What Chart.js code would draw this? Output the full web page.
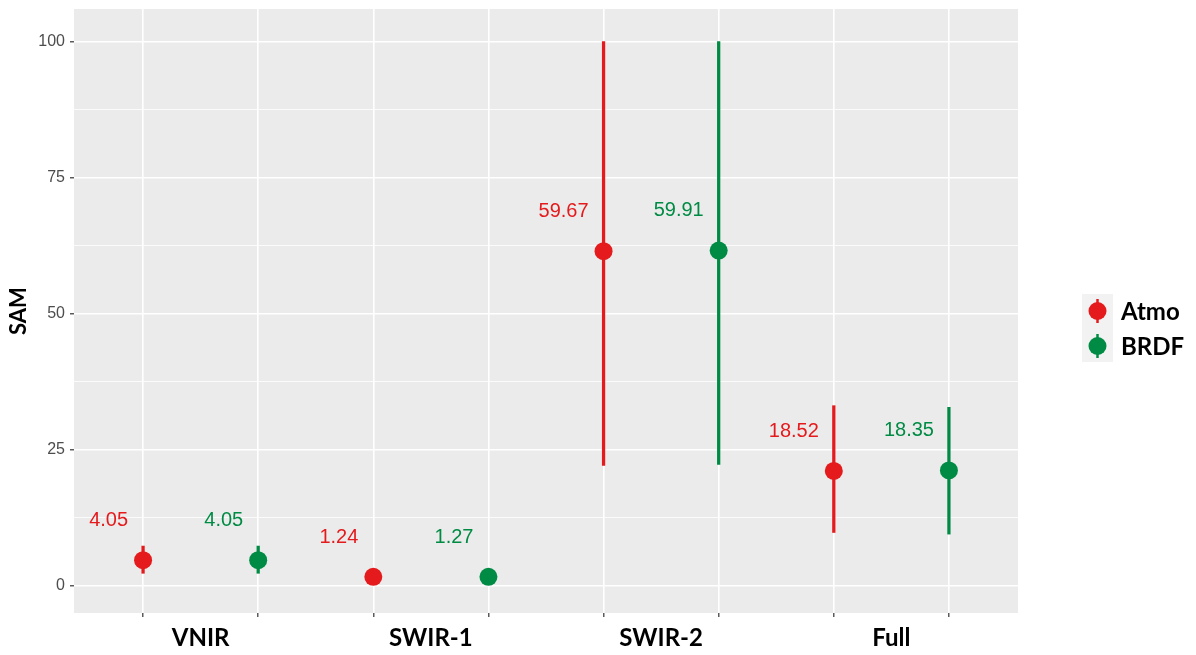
<!DOCTYPE html>
<html>
<head>
<meta charset="utf-8">
<script src="https://cdn.jsdelivr.net/npm/chart.js@4.4.1/dist/chart.umd.min.js"></script>
<style>
html,body{margin:0;padding:0;background:#fff;}
#wrap{width:1196px;height:655px;}
</style>
</head>
<body>
<div id="wrap"><canvas id="c" width="1196" height="655"></canvas></div>
<script>
// ---- data ----
const categories = ['VNIR', 'SWIR-1', 'SWIR-2', 'Full'];
const seriesNames = ['Atmo', 'BRDF'];
const atmoMean = [4.7, 1.65, 61.5, 21.1];
const atmoLow  = [2.3, 1.0, 22.1, 9.8];
const atmoHigh = [7.3, 2.3, 100, 33.1];
const brdfMean = [4.7, 1.65, 61.6, 21.2];
const brdfLow  = [2.3, 1.0, 22.3, 9.5];
const brdfHigh = [7.3, 2.3, 100, 32.8];
const atmoLabels = ['4.05', '1.24', '59.67', '18.52'];
const brdfLabels = ['4.05', '1.27', '59.91', '18.35'];
const yTicks = [0, 25, 50, 75, 100];

const RED = '#E41A1C';
const GREEN = '#008B45';

// positions: Atmo at 1,3,5,7 ; BRDF at 2,4,6,8
const atmoX = categories.map((c, i) => 2 * i + 1);
const brdfX = categories.map((c, i) => 2 * i + 2);

const mk = (xs, ys) => xs.map((x, i) => ({x: x, y: ys[i]}));
const mkBar = (xs, lo, hi) => xs.map((x, i) => ({x: x, y: [lo[i], hi[i]]}));

const labelNudgeX = -0.13, labelNudgeY = 7.3;

const panelPlugin = {
  id: 'panel',
  beforeDraw(chart) {
    const {ctx, chartArea: a} = chart;
    ctx.save();
    ctx.fillStyle = '#EBEBEB';
    ctx.fillRect(a.left, a.top, a.right - a.left, a.bottom - a.top);
    ctx.restore();
  },
  afterDraw(chart) {
    const {ctx, chartArea: a, scales} = chart;
    const xs = scales.x, ys = scales.y;
    ctx.save();
    // value labels
    ctx.font = '20px "Liberation Sans", Arial, sans-serif';
    ctx.textAlign = 'right';
    ctx.textBaseline = 'middle';
    const groups = [[atmoX, atmoMean, atmoLabels, RED], [brdfX, brdfMean, brdfLabels, GREEN]];
    groups.forEach(([px, m, lab, col]) => {
      ctx.fillStyle = col;
      px.forEach((x, i) => {
        ctx.fillText(lab[i], xs.getPixelForValue(x + labelNudgeX), ys.getPixelForValue(m[i] + labelNudgeY));
      });
    });
    // category labels
    ctx.fillStyle = '#000';
    ctx.font = 'bold 24px Lato, "Open Sans", sans-serif';
    ctx.textAlign = 'center';
    ctx.textBaseline = 'middle';
    categories.forEach((c, i) => {
      ctx.fillText(c, xs.getPixelForValue(2 * i + 1.5), a.bottom + 25);
    });
    // legend
    const lx = a.right + 64, ly = a.top + 285;
    ctx.fillStyle = '#F2F2F2';
    ctx.fillRect(lx, ly, 31, 68);
    [RED, GREEN].forEach((col, k) => {
      const cx = lx + 15.5, cy = ly + 17 + k * 35;
      ctx.strokeStyle = col; ctx.lineWidth = 2.5;
      ctx.beginPath(); ctx.moveTo(cx, cy - 12); ctx.lineTo(cx, cy + 12); ctx.stroke();
      ctx.fillStyle = col;
      ctx.beginPath(); ctx.arc(cx, cy, 9, 0, Math.PI * 2); ctx.fill();
      ctx.fillStyle = '#000';
      ctx.font = 'bold 24px Lato, "Open Sans", sans-serif';
      ctx.textAlign = 'left';
      ctx.textBaseline = 'middle';
      ctx.fillText(seriesNames[k], lx + 39, cy + 1);
    });
    ctx.restore();
  }
};

new Chart(document.getElementById('c'), {
  data: {
    datasets: [
      {type: 'bar', label: 'Atmo err', data: mkBar(atmoX, atmoLow, atmoHigh), backgroundColor: RED,
       barThickness: 2.6, borderWidth: 0, grouped: false, order: 2},
      {type: 'bar', label: 'BRDF err', data: mkBar(brdfX, brdfLow, brdfHigh), backgroundColor: GREEN,
       barThickness: 2.6, borderWidth: 0, grouped: false, order: 2},
      {type: 'scatter', label: seriesNames[0], data: mk(atmoX, atmoMean), backgroundColor: RED, borderWidth: 0,
       pointRadius: 9, pointHoverRadius: 9, order: 1},
      {type: 'scatter', label: seriesNames[1], data: mk(brdfX, brdfMean), backgroundColor: GREEN, borderWidth: 0,
       pointRadius: 9, pointHoverRadius: 9, order: 1}
    ]
  },
  options: {
    responsive: false,
    animation: false,
    layout: {padding: {top: 8, right: 178, left: 0, bottom: 0}},
    plugins: {legend: {display: false}, tooltip: {enabled: false}},
    scales: {
      x: {
        type: 'linear', min: 0.4, max: 8.6, offset: false,
        afterBuildTicks: (s) => { s.ticks = [1,2,3,4,5,6,7,8].map(v => ({value: v})); },
        afterFit: (s) => { s.height = 42; s.paddingLeft = 0; s.paddingRight = 0; },
        ticks: {display: false},
        grid: {offset: false, color: '#FFFFFF', lineWidth: 1.6, drawTicks: true, tickLength: 4, tickColor: '#333333', tickWidth: 1.2},
        border: {display: false}
      },
      y: {
        type: 'linear', min: -5, max: 106,
        afterBuildTicks: (s) => {
          const t = [];
          yTicks.forEach((v, i) => { t.push({value: v}); if (i < yTicks.length - 1) t.push({value: (v + yTicks[i + 1]) / 2}); });
          s.ticks = t;
        },
        afterFit: (s) => { s.width = 74; s.paddingTop = 0; s.paddingBottom = 0; },
        ticks: {
          callback: (v) => (yTicks.includes(v) ? String(v) : ''),
          color: '#4D4D4D', font: {family: '"Liberation Sans", Arial, sans-serif', size: 16}, padding: 5
        },
        grid: {
          color: '#FFFFFF',
          lineWidth: (c) => (yTicks.includes(c.tick.value) ? 1.6 : 0.8),
          drawTicks: true, tickLength: 4,
          tickColor: (c) => (yTicks.includes(c.tick.value) ? '#333333' : 'rgba(0,0,0,0)'),
          tickWidth: 1.2
        },
        border: {display: false},
        title: {display: true, text: 'SAM', color: '#000', font: {family: 'Lato, "Open Sans", sans-serif', weight: 'bold', size: 22}, padding: {top: 6, bottom: 0}}
      }
    }
  },
  plugins: [panelPlugin]
});
</script>
</body>
</html>
